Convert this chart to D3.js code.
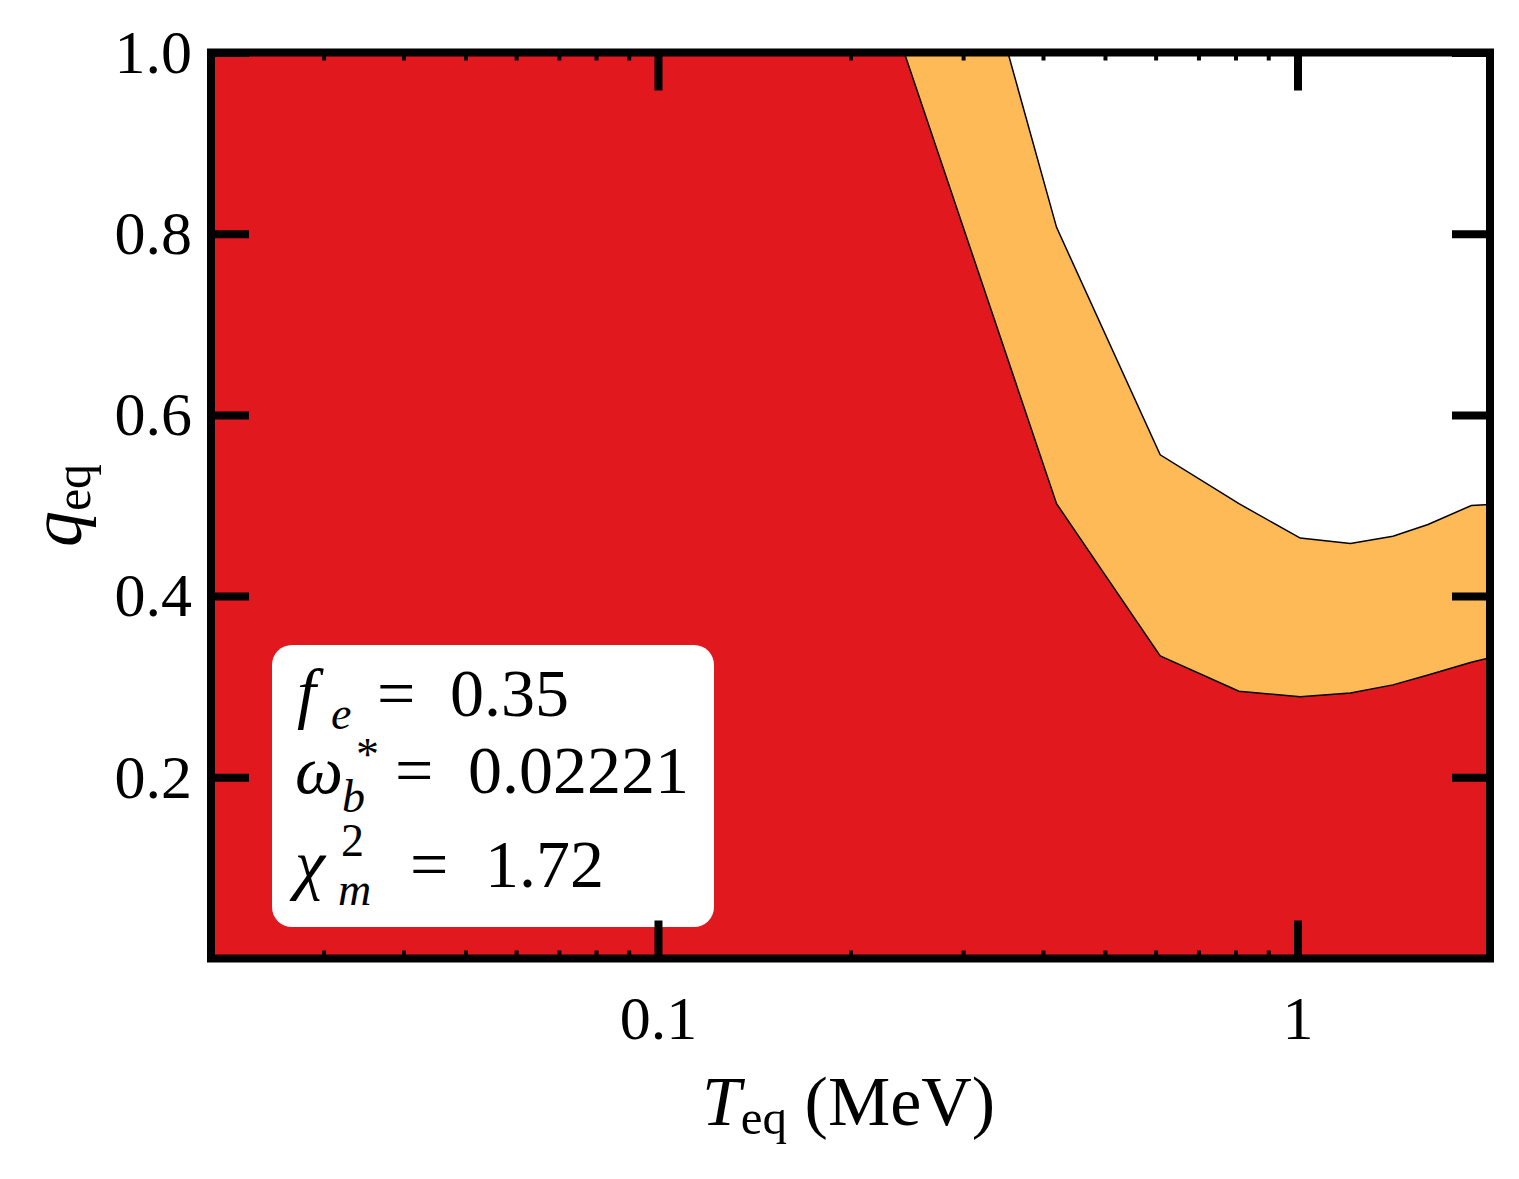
<!DOCTYPE html>
<html>
<head>
<meta charset="utf-8">
<script src="https://cdn.jsdelivr.net/npm/d3@7"></script>
<style>
  body { margin: 0; background: #fff; }
  svg { display: block; }
  text { font-family: "Liberation Serif", "Times New Roman", serif; fill: #000; }
</style>
</head>
<body>
<div id="chart"></div>
<script>
// boundary: upper = orange/white edge, lower = red/orange edge
var upperT = [0.3525, 0.42, 0.61, 0.81, 1.01, 1.21, 1.41, 1.60, 1.87, 2.0];
var upperQ = [1.0, 0.807, 0.556, 0.502, 0.464, 0.458, 0.466, 0.479, 0.500, 0.501];
var lowerT = [0.2427, 0.42, 0.61, 0.81, 1.01, 1.21, 1.41, 1.60, 1.87, 2.0];
var lowerQ = [1.0, 0.502, 0.334, 0.295, 0.289, 0.293, 0.302, 0.313, 0.327, 0.332];

var xDomain = [0.02, 2];
var yDomain = [0, 1];
var xMajor = [0.1, 1];
var xMajorLabels = ["0.1", "1"];
var xMinor = [0.03, 0.04, 0.05, 0.06, 0.07, 0.08, 0.09, 0.2, 0.3, 0.4, 0.5, 0.6, 0.7, 0.8, 0.9];
var yMajor = [0.2, 0.4, 0.6, 0.8, 1.0];
var yMajorLabels = ["0.2", "0.4", "0.6", "0.8", "1.0"];

var W = 1519, H = 1179;
var pL = 211, pR = 1490, pT = 52.5, pB = 958.5;

var svg = d3.select("#chart").append("svg")
	.attr("width", W)
	.attr("height", H);

svg.append("rect").attr("width", W).attr("height", H).attr("fill", "#fff");

var x = d3.scaleLog().domain(xDomain).range([pL, pR]);
var y = d3.scaleLinear().domain(yDomain).range([pB, pT]);

svg.append("defs").append("clipPath").attr("id", "plotclip")
	.append("rect")
	.attr("x", pL).attr("y", pT)
	.attr("width", pR - pL).attr("height", pB - pT);

var upper = upperT.map(function(t, i){ return {T: t, q: upperQ[i]}; });
var lower = lowerT.map(function(t, i){ return {T: t, q: lowerQ[i]}; });

var area = d3.area()
	.x(function(d){ return x(d.T); })
	.y0(y(0))
	.y1(function(d){ return y(d.q); });

var line = d3.line()
	.x(function(d){ return x(d.T); })
	.y(function(d){ return y(d.q); });

var g = svg.append("g").attr("clip-path", "url(#plotclip)");

// orange band first, red region over it
g.append("path")
	.datum([{T: xDomain[0], q: 1}].concat(upper))
	.attr("d", area)
	.attr("fill", "#fdba57");

g.append("path")
	.datum([{T: xDomain[0], q: 1}].concat(lower))
	.attr("d", area)
	.attr("fill", "#e1191e");

g.append("path").datum(upper).attr("d", line)
	.attr("fill", "none").attr("stroke", "#000").attr("stroke-width", 1.5);
g.append("path").datum(lower).attr("d", line)
	.attr("fill", "none").attr("stroke", "#000").attr("stroke-width", 1.5);

// text box
svg.append("rect")
	.attr("x", 272).attr("y", 645)
	.attr("width", 442).attr("height", 282)
	.attr("rx", 20).attr("ry", 20)
	.attr("fill", "#fff");

var box = svg.append("g").style("font-size", "68px");

function piece(xp, yp, str, italic, size){
	var t = box.append("text").attr("x", xp).attr("y", yp).text(str);
	if(italic) t.style("font-style", "italic");
	if(size) t.style("font-size", size + "px");
	return t;
}
// f_e = 0.35
piece(297, 716, "f", true);
piece(331, 729, "e", true, 46);
piece(377, 716, "=");
piece(450, 716, "0.35");
// omega*_b = 0.02221
piece(295, 793, "ω", true);
piece(356, 770, "*", false, 46);
piece(342, 812, "b", true, 46);
piece(395, 793, "=");
piece(468, 793, "0.02221");
// chi^2_m = 1.72
piece(295, 887, "χ", true);
piece(341, 856, "2", false, 46);
piece(338, 905, "m", true, 46);
piece(410, 887, "=");
piece(485, 887, "1.72");

// axes: ticks inward on all four sides
function styleAxis(sel, w){
	sel.select(".domain").remove();
	sel.selectAll(".tick line").attr("stroke", "#000").attr("stroke-width", w);
	sel.selectAll("text")
		.style("font-family", "Liberation Serif, serif")
		.style("font-size", "62px")
		.attr("fill", "#000");
}

var xb = svg.append("g").attr("transform", "translate(0," + pB + ")")
	.call(d3.axisBottom(x).tickValues(xMajor).tickSize(-38).tickPadding(36)
		.tickFormat(function(d, i){ return xMajorLabels[i]; }));
styleAxis(xb, 8);

var xbm = svg.append("g").attr("transform", "translate(0," + pB + ")")
	.call(d3.axisBottom(x).tickValues(xMinor).tickSize(-8).tickFormat(""));
styleAxis(xbm, 4);

var xt = svg.append("g").attr("transform", "translate(0," + pT + ")")
	.call(d3.axisTop(x).tickValues(xMajor).tickSize(-38).tickFormat(""));
styleAxis(xt, 8);

var xtm = svg.append("g").attr("transform", "translate(0," + pT + ")")
	.call(d3.axisTop(x).tickValues(xMinor).tickSize(-8).tickFormat(""));
styleAxis(xtm, 4);

var yl = svg.append("g").attr("transform", "translate(" + pL + ",0)")
	.call(d3.axisLeft(y).tickValues(yMajor).tickSize(-38).tickPadding(19)
		.tickFormat(function(d, i){ return yMajorLabels[i]; }));
styleAxis(yl, 8);

var yr = svg.append("g").attr("transform", "translate(" + pR + ",0)")
	.call(d3.axisRight(y).tickValues(yMajor).tickSize(-38).tickFormat(""));
styleAxis(yr, 8);

// frame
svg.append("rect")
	.attr("x", pL).attr("y", pT)
	.attr("width", pR - pL).attr("height", pB - pT)
	.attr("fill", "none").attr("stroke", "#000").attr("stroke-width", 8);

// axis labels
var xl = svg.append("text")
	.attr("x", (pL + pR) / 2 - 2).attr("y", 1125)
	.attr("text-anchor", "middle")
	.style("font-size", "70px");
xl.append("tspan").style("font-style", "italic").text("T");
xl.append("tspan").attr("dy", 9).style("font-size", "49px").text("eq");
xl.append("tspan").attr("dy", -9).text(" (MeV)");

var ylab = svg.append("text")
	.attr("transform", "translate(81," + ((pT + pB) / 2) + ") rotate(-90)")
	.attr("text-anchor", "middle")
	.style("font-size", "72px");
ylab.append("tspan").style("font-style", "italic").text("q");
ylab.append("tspan").attr("dy", 9).style("font-size", "50px").text("eq");
</script>
</body>
</html>
